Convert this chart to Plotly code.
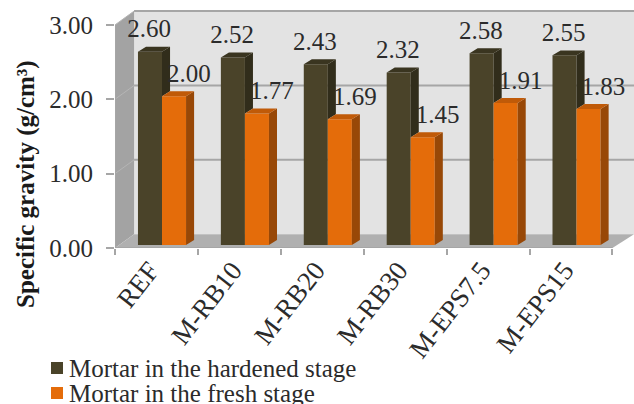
import plotly.graph_objects as go

categories = ["REF", "M-RB10", "M-RB20", "M-RB30", "M-EPS7.5", "M-EPS15"]
hardened = [2.60, 2.52, 2.43, 2.32, 2.58, 2.55]
fresh = [2.00, 1.77, 1.69, 1.45, 1.91, 1.83]
series_names = ["Mortar in the hardened stage", "Mortar in the fresh stage"]
y_ticks = [0, 1, 2, 3]

FONT = "Liberation Serif"
TEXT = "#2b2b2b"
HARD, HARD_SIDE, HARD_TOP = "#4a4329", "#312d1b", "#3a3520"
FRESH, FRESH_SIDE, FRESH_TOP = "#e46c0a", "#984807", "#c05a08"
WALL_DX, WALL_DY = 0.23, 0.185   # depth of the chart box
BAR_DX, BAR_DY = 0.097, 0.067    # depth of each column
BAR_W = 0.29
BAR_LEFT = 0.277
BASE = 0.04
X_MAX, Y_MAX = 6.26, 3.2
n = len(categories)
idx = list(range(n))

# Plot area in pixels, used to place the hand-built key and axis title
W, H = 634, 404
L, T, B = 115, 10, 156


def px(x):
    return (x - L) / (W - L)


def py(y):
    return (H - B - y) / (H - T - B)


def faces(lefts, tops, lower=None):
    """Top and side parallelograms of a run of 3D columns."""
    top_x, top_y, side_x, side_y = [], [], [], []
    for i, (x0, v) in enumerate(zip(lefts, tops)):
        x1 = x0 + BAR_W
        t = BASE + v
        b = BASE + (lower[i] if lower else 0)
        top_x += [x0, x0 + BAR_DX, x1 + BAR_DX, x1, x0, None]
        top_y += [t, t + BAR_DY, t + BAR_DY, t, t, None]
        side_x += [x1, x1 + BAR_DX, x1 + BAR_DX, x1, x1, None]
        side_y += [t, t + BAR_DY, b + BAR_DY, b, t, None]
    return top_x, top_y, side_x, side_y


def poly(x, y, color):
    return go.Scatter(x=x, y=y, mode="lines", fill="toself", fillcolor=color,
                      line=dict(width=0), hoverinfo="skip", showlegend=False)


left_h = [i + BAR_LEFT for i in idx]
left_f = [i + BAR_LEFT + BAR_W for i in idx]

fig = go.Figure()
fig.add_bar(name=series_names[0], x=[v + BAR_W / 2 for v in left_h], y=hardened,
            base=BASE, width=BAR_W, marker=dict(color=HARD, line=dict(width=0)), showlegend=False)
fig.add_bar(name=series_names[1], x=[v + BAR_W / 2 for v in left_f], y=fresh,
            base=BASE, width=BAR_W, marker=dict(color=FRESH, line=dict(width=0)), showlegend=False)

# The hardened side face stops at the fresh column standing in front of it
tx, ty, sx, sy = faces(left_h, hardened, lower=fresh)
fig.add_trace(poly(sx, sy, HARD_SIDE))
fig.add_trace(poly(tx, ty, HARD_TOP))
tx, ty, sx, sy = faces(left_f, fresh)
fig.add_trace(poly(sx, sy, FRESH_SIDE))
fig.add_trace(poly(tx, ty, FRESH_TOP))

# Value labels
label_style = dict(mode="text", textposition="middle center", hoverinfo="skip", showlegend=False,
                   textfont=dict(family=FONT, size=25, color=TEXT))
fig.add_trace(go.Scatter(x=[v + BAR_W / 2 - 0.01 for v in left_h],
                         y=[BASE + v + 0.275 for v in hardened],
                         text=[f"{v:.2f}" for v in hardened], **label_style))
fig.add_trace(go.Scatter(x=[v + BAR_W / 2 + 0.18 for v in left_f],
                         y=[BASE + v + 0.275 for v in fresh],
                         text=[f"{v:.2f}" for v in fresh], **label_style))

# Box behind the columns: back wall, side wall, floor and gridlines
shapes = [
    dict(type="rect", x0=WALL_DX, x1=X_MAX, y0=WALL_DY, y1=Y_MAX, fillcolor="#e3e3e3", line_width=0),
    dict(type="path", path=f"M 0 0 L {WALL_DX} {WALL_DY} L {WALL_DX} {3 + WALL_DY} L 0 3 Z",
         fillcolor="#a3a3a3", line_width=0),
    dict(type="path", path=f"M 0 0 L {WALL_DX} {WALL_DY} L {X_MAX} {WALL_DY} L {n} 0 Z",
         fillcolor="#b0b0b0", line_width=0),
]
for t in y_ticks[1:]:
    shapes.append(dict(type="line", x0=WALL_DX, x1=X_MAX, y0=t + WALL_DY, y1=t + WALL_DY,
                       line=dict(color="#a6a6a6", width=2)))
    shapes.append(dict(type="line", x0=0, x1=WALL_DX, y0=t, y1=t + WALL_DY,
                       line=dict(color="#b5b5b5", width=1)))
shapes.append(dict(type="line", x0=0, x1=n, y0=0, y1=0, line=dict(color="#a6a6a6", width=2)))
shapes.append(dict(type="line", x0=0, x1=0, y0=0, y1=3, line=dict(color="#a6a6a6", width=2)))
for s in shapes:
    s["layer"] = "below"

# Key below the chart, two tightly spaced rows
key_rows = [(368, HARD), (393, FRESH)]
annotations = [dict(text="<b>Specific gravity (g/cm³)</b>", textangle=-90,
                    xref="paper", yref="paper", x=px(26), y=py(184), xanchor="center",
                    yanchor="middle", showarrow=False,
                    font=dict(family=FONT, size=25, color="#1a1a1a"))]
for name, (row_y, color) in zip(series_names, key_rows):
    shapes.append(dict(type="rect", xref="paper", yref="paper",
                       x0=px(51), x1=px(63), y0=py(row_y + 6), y1=py(row_y - 6),
                       fillcolor=color, line_width=0))
    annotations.append(dict(text=name, xref="paper", yref="paper", x=px(67), y=py(row_y),
                            xanchor="left", yanchor="middle", showarrow=False,
                            font=dict(family=FONT, size=25, color=TEXT)))

fig.update_layout(
    width=W, height=H, autosize=False,
    margin=dict(l=L, r=0, t=T, b=B),
    paper_bgcolor="white", plot_bgcolor="white",
    shapes=shapes,
    annotations=annotations,
    showlegend=False,
    font=dict(family=FONT, color=TEXT),
    xaxis=dict(range=[0, X_MAX], showgrid=False, zeroline=False, showline=False,
               tickmode="array", tickvals=[i + 0.42 for i in idx], ticktext=categories,
               tickangle=-52, ticks="", ticklen=6, tickfont=dict(family=FONT, size=27, color=TEXT),
               minor=dict(tickmode="array", tickvals=list(range(n + 1)), ticks="outside",
                          ticklen=6, tickcolor="#a6a6a6", tickwidth=1.5)),
    yaxis=dict(range=[0, Y_MAX], showgrid=False, zeroline=False, showline=False,
               tickmode="array", tickvals=y_ticks, ticktext=[f"{t:.2f}" for t in y_ticks],
               ticks="outside", ticklen=8, tickcolor="#a6a6a6", tickwidth=1.5,
               ticklabelstandoff=8, tickfont=dict(family=FONT, size=25, color=TEXT)),
)

fig.write_html("out.html", config=dict(displayModeBar=False))
